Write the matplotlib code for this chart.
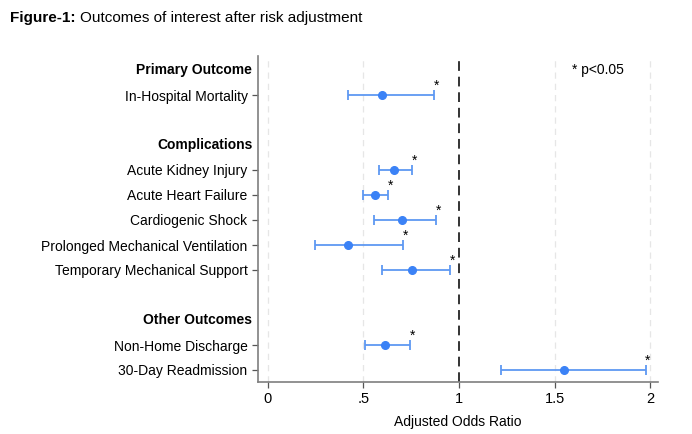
import matplotlib
matplotlib.use("Agg")
import matplotlib.pyplot as plt

plt.rcParams['font.family'] = ['Liberation Sans', 'DejaVu Sans']

# rows, top to bottom (None = blank spacer)
labels = ["Primary Outcome", "In-Hospital Mortality", None,
          "Complications", "Acute Kidney Injury", "Acute Heart Failure",
          "Cardiogenic Shock", "Prolonged Mechanical Ventilation",
          "Temporary Mechanical Support", None,
          "Other Outcomes", "Non-Home Discharge", "30-Day Readmission"]
headers = ["Primary Outcome", "Complications", "Other Outcomes"]

outcomes = ["In-Hospital Mortality", "Acute Kidney Injury", "Acute Heart Failure",
            "Cardiogenic Shock", "Prolonged Mechanical Ventilation",
            "Temporary Mechanical Support", "Non-Home Discharge", "30-Day Readmission"]
aor = [0.60, 0.66, 0.56, 0.70, 0.42, 0.755, 0.615, 1.55]
ci_low = [0.42, 0.58, 0.50, 0.555, 0.25, 0.60, 0.51, 1.22]
ci_high = [0.87, 0.755, 0.63, 0.88, 0.71, 0.955, 0.745, 1.975]
signif = [True] * 8

xticks = [0, 0.5, 1, 1.5, 2]
xticklabels = ["0", ".5", "1", "1.5", "2"]

fig = plt.figure(figsize=(6.92, 4.34), dpi=100)
ax = fig.add_axes([258 / 692, 1 - 382 / 434, 400 / 692, 326 / 434])

ypos = [labels.index(o) for o in outcomes]
xerr = [[a - l for a, l in zip(aor, ci_low)], [h - a for a, h in zip(aor, ci_high)]]

for g in [0, 0.5, 1.5, 2]:
    ax.axvline(g, color='#e6e6e6', lw=0.9, ls=(0, (5, 4)), zorder=0)
ax.axvline(1, color='#333333', lw=1.4, ls=(0, (5, 3)), zorder=1)

ax.errorbar(aor, ypos, xerr=xerr, fmt='o', color='#3b82f6', ecolor='#5e98f2',
            elinewidth=1.3, capsize=3.5, capthick=1.3, markersize=5.5, zorder=3)

for h, y, s in zip(ci_high, ypos, signif):
    if s:
        ax.text(h + 0.012, y - 0.36, "*", ha='center', va='center', fontsize=10)

ax.text(1.59, 0.0, "* p<0.05", ha='left', va='center', fontsize=10)

ax.set_xlim(-0.05, 2.04)
ax.set_ylim(12.48, -0.56)
ax.set_xticks(xticks)
ax.set_xticklabels(xticklabels, fontsize=10.5)
ax.set_xlabel("Adjusted Odds Ratio", fontsize=10, labelpad=6)

ax.set_yticks(ypos)
ax.set_yticklabels(outcomes, fontsize=10)
for i, lab in enumerate(labels):
    if lab in headers:
        ax.text(-0.08, i, lab, ha='right', va='center', fontsize=10,
                fontweight='bold')

for side in ['top', 'right']:
    ax.spines[side].set_visible(False)
for side in ['left', 'bottom']:
    ax.spines[side].set_color('#7f7f7f')
    ax.spines[side].set_linewidth(1.2)
ax.tick_params(axis='both', colors='#555555', labelcolor='black', length=4, width=0.9)

t1 = fig.text(10 / 692, 1 - 18 / 434, "Figure-1:", fontsize=11, fontweight='bold',
              va='center', ha='left')
fig.canvas.draw()
bb = t1.get_window_extent()
fig.text((bb.x1 + 4) / 692, 1 - 18 / 434, "Outcomes of interest after risk adjustment",
         fontsize=11, va='center', ha='left')

fig.savefig("out.png", dpi=100)
